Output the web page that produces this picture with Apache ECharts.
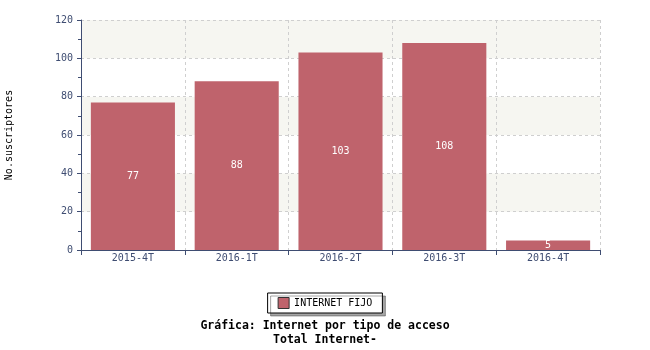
<!DOCTYPE html>
<html><head><meta charset="utf-8">
<script src="https://cdn.jsdelivr.net/npm/echarts@6/dist/echarts.min.js"></script>
<style>html,body{margin:0;padding:0;background:#fff}#c{width:650px;height:350px}</style>
</head><body><div id="c"></div>
<script>
const categories = ['2015-4T','2016-1T','2016-2T','2016-3T','2016-4T'];
const internetFijo = [77, 88, 103, 108, 5];
const yTicks = [0, 20, 40, 60, 80, 100, 120];
const axisColor = '#3f4d72';
const font = 'DejaVu Sans Mono';
const chart = echarts.init(document.getElementById('c'));
chart.setOption({
  animation: false,
  title: {
    text: 'Gráfica: Internet por tipo de acceso\nTotal Internet-',
    left: 'center', top: 314,
    textStyle: {fontFamily: font, fontSize: 11.5, fontWeight: 'bold', color: '#000', lineHeight: 14, align: 'center'}
  },
  legend: {
    data: ['INTERNET FIJO'], left: 'center', top: 293,
    icon: 'rect', itemWidth: 11, itemHeight: 11, itemGap: 5,
    padding: [4, 10, 4, 10],
    borderColor: '#000', borderWidth: 1, backgroundColor: '#fff',
    shadowColor: 'rgba(0,0,0,0.35)', shadowOffsetX: 3, shadowOffsetY: 3, shadowBlur: 0,
    textStyle: {fontFamily: font, fontSize: 10, color: '#000'},
    itemStyle: {borderColor: '#333', borderWidth: 1}
  },
  grid: {left: 81, right: 50, top: 20, bottom: 100, containLabel: false, outerBoundsMode: 'none'},
  xAxis: {
    type: 'category', data: categories,
    axisLine: {lineStyle: {color: axisColor, width: 1}},
    axisTick: {show: true, length: 5, lineStyle: {color: axisColor}},
    axisLabel: {fontFamily: font, fontSize: 10, color: axisColor, margin: 3},
    splitLine: {show: true, lineStyle: {color: '#cfcfcf', type: [3, 3]}}
  },
  yAxis: {
    type: 'value', min: 0, max: 120, interval: 20,
    name: 'No.suscriptores', nameLocation: 'middle', nameGap: 67, nameRotate: 90,
    nameTextStyle: {fontFamily: font, fontSize: 10, color: '#000'},
    axisLine: {show: true, lineStyle: {color: axisColor, width: 1}},
    axisTick: {show: true, length: 4, lineStyle: {color: axisColor}},
    minorTick: {show: true, splitNumber: 2, length: 3, lineStyle: {color: axisColor}},
    axisLabel: {fontFamily: font, fontSize: 10, color: axisColor, margin: 8,
      formatter: v => yTicks.includes(v) ? String(v) : ''},
    splitLine: {show: true, lineStyle: {color: '#cfcfcf', type: [3, 3]}},
    splitArea: {show: true, areaStyle: {color: ['#ffffff', '#f6f6f1']}}
  },
  series: [{
    name: 'INTERNET FIJO', type: 'bar', data: internetFijo,
    barWidth: '81%',
    itemStyle: {color: '#bf636c'},
    label: {show: true, position: 'inside', color: '#fff', fontFamily: font, fontSize: 10}
  }]
});
</script></body></html>
